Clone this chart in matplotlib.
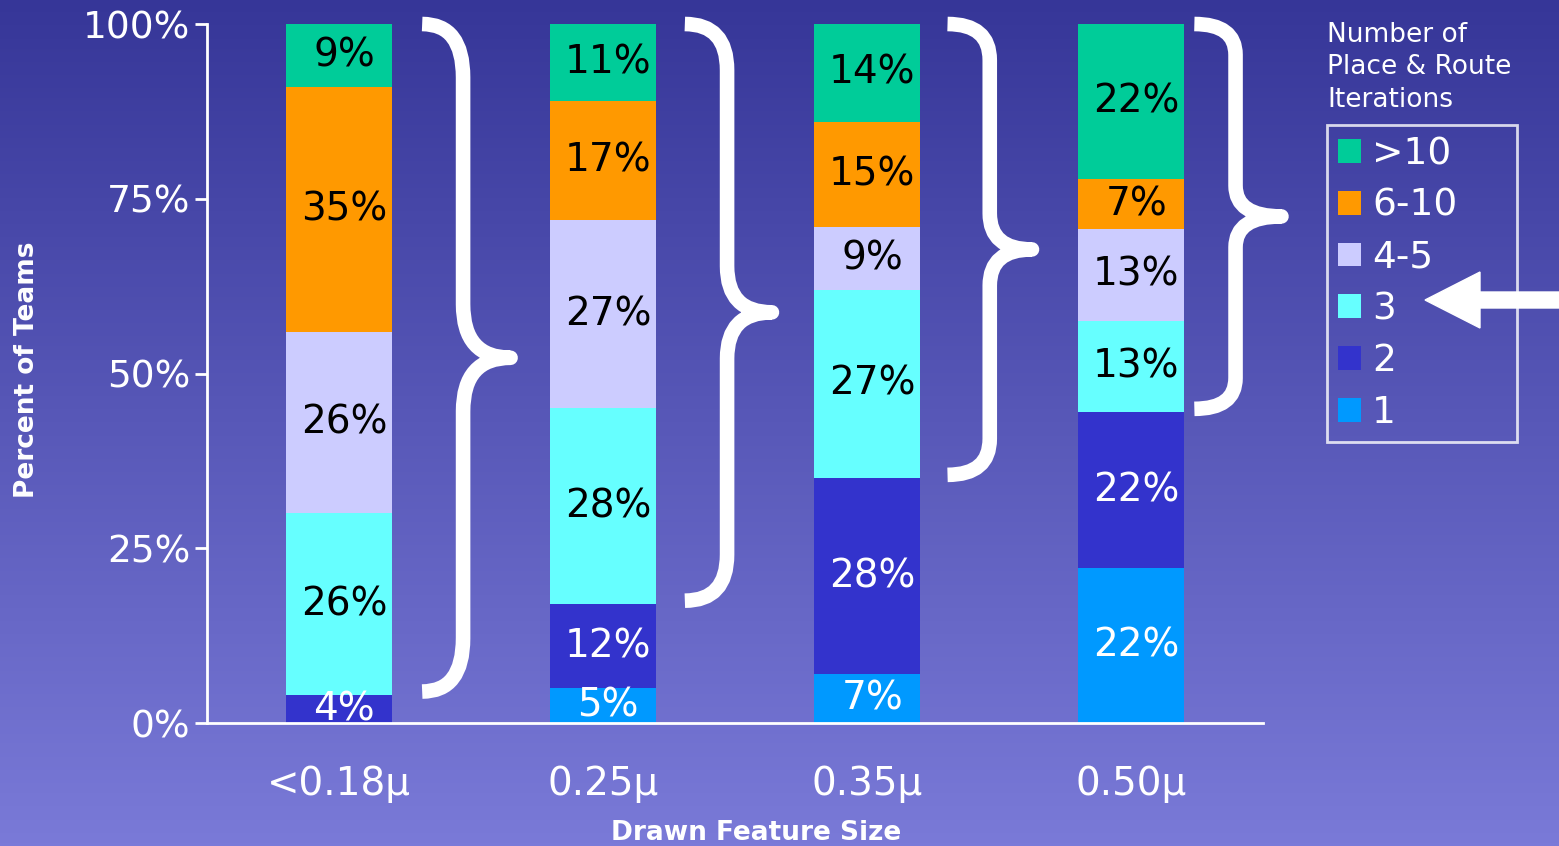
import matplotlib
matplotlib.use('Agg')

import numpy as np
import matplotlib.pyplot as plt
from matplotlib.patches import Patch, PathPatch, FancyArrow
from matplotlib.path import Path

# === Data: share of teams per number of place & route iterations ===
sizes = ["<0.18\u00b5", "0.25\u00b5", "0.35\u00b5", "0.50\u00b5"]
iter_labels = ["1", "2", "3", "4-5", "6-10", ">10"]
iter_1 = [0, 5, 7, 22]
iter_2 = [4, 12, 28, 22]
iter_3 = [26, 28, 27, 13]
iter_4_5 = [26, 27, 9, 13]
iter_6_10 = [35, 17, 15, 7]
iter_gt10 = [9, 11, 14, 22]

series = [iter_1, iter_2, iter_3, iter_4_5, iter_6_10, iter_gt10]
colors = ["#0099FF", "#3333CC", "#66FFFF", "#CCCCFF", "#FF9900", "#00CC99"]
text_colors = ["white", "white", "black", "black", "black", "black"]

# brace offsets from bar centre: (ends, stem, tip)
brace_offsets = [(0.315, 0.47, 0.65), (0.31, 0.47, 0.64),
                 (0.305, 0.465, 0.625), (0.24, 0.396, 0.57)]

W, H = 1559, 846
fig = plt.figure(figsize=(W / 100, H / 100), dpi=100)

# gradient background
bg = fig.add_axes([0, 0, 1, 1], zorder=-10)
grad = np.linspace(0, 1, 256).reshape(-1, 1)
top = np.array([54, 54, 152]) / 255
bot = np.array([122, 122, 216]) / 255
img = top + (bot - top) * grad[:, :, None]
bg.imshow(img, aspect='auto', extent=[0, 1, 0, 1])
bg.axis('off')

ax = fig.add_axes([207 / W, 1 - 723 / H, (1263 - 207) / W, (723 - 24) / H])
ax.patch.set_alpha(0)

x = np.arange(len(sizes))
totals = np.sum(series, axis=0)
bottom = np.zeros(len(sizes))
bar_w = 0.405
for vals, col, tcol in zip(series, colors, text_colors):
    pct = np.array(vals) / totals * 100
    ax.bar(x, pct, bar_w, bottom=bottom, color=col, linewidth=0)
    for xi, v, b, p in zip(x, vals, bottom, pct):
        if v > 0:
            ax.text(xi + 0.02, b + p / 2, f"{v}%", ha='center', va='center',
                    color=tcol, fontsize=28)
    bottom += pct

ax.set_xlim(-0.5, 3.5)
ax.set_ylim(0, 100)
ax.set_yticks([0, 25, 50, 75, 100])
ax.set_yticklabels(["0%", "25%", "50%", "75%", "100%"])
ax.set_xticks(x)
ax.set_xticklabels(sizes)
ax.tick_params(axis='y', colors='white', labelsize=27, length=9, width=2, pad=3)
ax.tick_params(axis='x', colors='white', labelsize=28, length=0, pad=30)
for s in ['top', 'right']:
    ax.spines[s].set_visible(False)
for s in ['left', 'bottom']:
    ax.spines[s].set_color('white')
    ax.spines[s].set_linewidth(2)

fig.text(756 / W, 1 - 840 / H, "Drawn Feature Size", color='white',
         fontsize=19, fontweight='bold', ha='center', va='baseline')
fig.text(27 / W, 1 - 370 / H, "Percent of Teams", color='white',
         fontsize=19, fontweight='bold', ha='center', va='center', rotation=90)

# curly braces grouping 3+ iterations
low = (np.array(iter_1) + np.array(iter_2)) / totals * 100
for xi, lo, (oa, ob, oc) in zip(x, low, brace_offsets):
    a, b, c = xi + oa, xi + ob, xi + oc
    t, bo = 100.0, lo + 0.5
    m = (t + bo) / 2
    r = (t - bo) * 0.08
    verts = [(a, t), (b, t), (b, t - r), (b, m + r), (b, m), (c, m),
             (b, m), (b, m - r), (b, bo + r), (b, bo), (a, bo)]
    codes = [Path.MOVETO, Path.CURVE3, Path.CURVE3, Path.LINETO,
             Path.CURVE3, Path.CURVE3, Path.CURVE3, Path.CURVE3,
             Path.LINETO, Path.CURVE3, Path.CURVE3]
    ax.add_patch(PathPatch(Path(verts, codes), fill=False, edgecolor='white',
                           linewidth=10.5, clip_on=False, capstyle='butt',
                           joinstyle='round'))

# legend
fig.text(1327 / W, 1 - 22 / H, "Number of\nPlace & Route\nIterations",
         color='white', fontsize=19, ha='left', va='top', linespacing=1.32)
handles = [Patch(facecolor=c, edgecolor='none', label=l)
           for c, l in zip(colors[::-1], iter_labels[::-1])]
leg = ax.legend(handles=handles, loc='upper left', mode='expand',
                bbox_to_anchor=(1327 / W, 1 - 438 / H, 190 / W, 313 / H),
                bbox_transform=fig.transFigure, borderaxespad=0,
                fontsize=27, labelcolor='white', frameon=True, fancybox=False,
                handlelength=0.6, handleheight=0.6, handletextpad=0.3,
                labelspacing=0.42, borderpad=0.3)
leg.get_frame().set_facecolor('none')
leg.get_frame().set_edgecolor('white')
leg.get_frame().set_linewidth(2)
leg.set_in_layout(False)

# arrow pointing at "3"
arrow = FancyArrow(15.59, (H - 300) / 100, -1.34, 0, width=0.16,
                   head_width=0.56, head_length=0.55, length_includes_head=True,
                   color='white', transform=fig.dpi_scale_trans)
fig.patches.append(arrow)

fig.savefig("out.png", dpi=100)
